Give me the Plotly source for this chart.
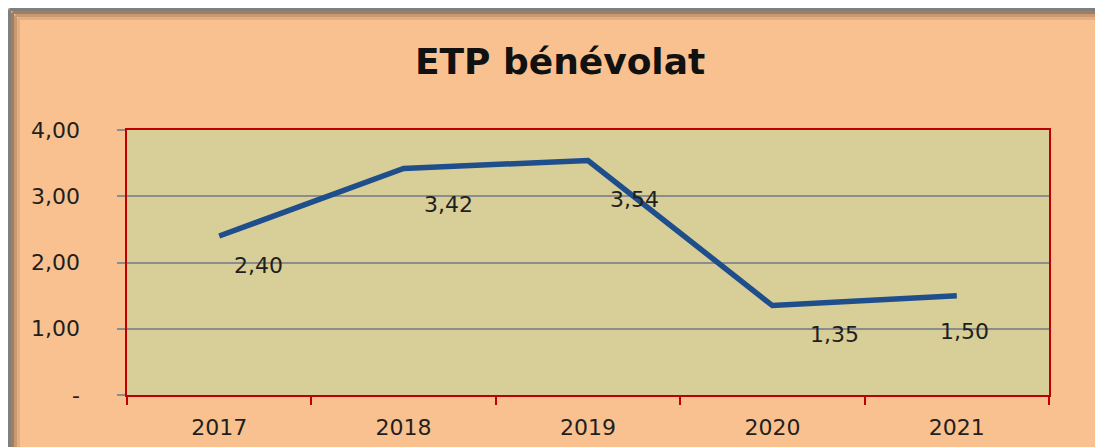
import plotly.graph_objects as go

# ETP bénévolat par année
years = ["2017", "2018", "2019", "2020", "2021"]
etp = [2.40, 3.42, 3.54, 1.35, 1.50]
etp_labels = ["2,40", "3,42", "3,54", "1,35", "1,50"]
y_ticks = [0, 1, 2, 3, 4]
y_ticktext = ["-", "1,00", "2,00", "3,00", "4,00"]

# decalage des etiquettes (px), comme dans le classeur
label_dx = [39, 45, 46, 62, 8]
label_dy = [-29, -36, -39, -29, -36]

peach = "#F9C18F"
khaki = "#D8CE97"
red = "#C00000"
grid = "#8C8C8C"
font = "DejaVu Sans"

L, T, W, H = 119, 122, 922, 265  # zone de tracé (px)

fig = go.Figure()
fig.add_trace(go.Scatter(
    x=years, y=etp, mode="lines",
    line=dict(color="#1F4E8C", width=5.5),
    hoverinfo="skip", showlegend=False,
))

for i, (v, t, dx, dy) in enumerate(zip(etp, etp_labels, label_dx, label_dy)):
    fig.add_annotation(x=i, y=v, text=t, showarrow=False,
                       xshift=dx, yshift=dy,
                       font=dict(family=font, size=22, color="#1f1f1f"))

for v, t in zip(y_ticks, y_ticktext):
    fig.add_annotation(xref="paper", x=0, y=v, text=t, showarrow=False,
                       xanchor="right", xshift=-45,
                       font=dict(family=font, size=22, color="#1f1f1f"))

fig.update_layout(
    width=1103, height=447,
    margin=dict(l=L, r=1103 - L - W, t=T, b=447 - T - H),
    paper_bgcolor=peach,
    plot_bgcolor=khaki,
    title=dict(text="<b>ETP bénévolat</b>", x=0.5005, xanchor="center",
               y=1 - 53 / 447, yanchor="middle",
               font=dict(family=font, size=36, color="#111111")),
    font=dict(family=font, size=22, color="#1f1f1f"),
    xaxis=dict(
        type="category", range=[-0.5, 4.5],
        tickson="boundaries", ticks="outside",
        ticklen=8, tickwidth=2, tickcolor=red,
        showline=True, linecolor=red, linewidth=2, mirror=True,
        showgrid=False, tickfont=dict(size=22), ticklabelstandoff=12,
        fixedrange=True,
    ),
    yaxis=dict(
        range=[0, 4], tickvals=y_ticks, showticklabels=False,
        ticks="outside", ticklen=8, tickwidth=2, tickcolor=grid,
        showline=True, linecolor=red, linewidth=2, mirror=True,
        showgrid=True, gridcolor=grid, gridwidth=2,
        zeroline=False, fixedrange=True,
    ),
)

# bord gris avec ombre, en haut et a gauche
x_edge = -L / W
y_edge = 1 + T / H
for k, (c, w) in enumerate([("#7f7f7f", 3), ("#a07e62", 3), ("#c99a72", 3),
                            ("#e6ae80", 3)]):
    fig.add_shape(type="line", xref="paper", yref="paper",
                  x0=x_edge + (1.5 + 3 * k) / W, x1=x_edge + (1.5 + 3 * k) / W,
                  y0=-1, y1=y_edge - (1.5 + 3 * k) / H,
                  line=dict(color=c, width=w), layer="below")
    fig.add_shape(type="line", xref="paper", yref="paper",
                  x0=x_edge + (1.5 + 3 * k) / W, x1=1.2,
                  y0=y_edge - (1.5 + 3 * k) / H, y1=y_edge - (1.5 + 3 * k) / H,
                  line=dict(color=c, width=w), layer="below")

fig.write_html("out.html")
